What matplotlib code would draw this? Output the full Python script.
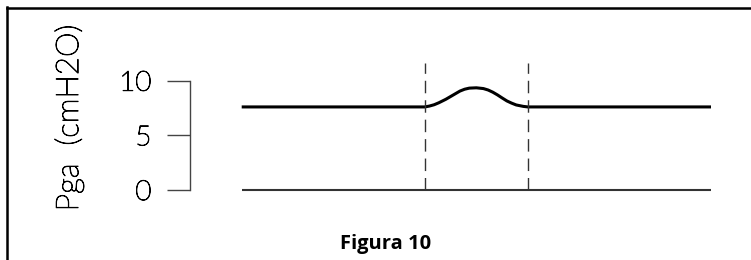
import matplotlib
matplotlib.use('Agg')
import matplotlib.pyplot as plt
import matplotlib.patheffects as pe
from matplotlib.lines import Line2D

# Datos
t = [0, 39, 40, 41, 42, 43.5, 44.5, 45.5, 46.5, 47.5, 48.5, 50, 51.5,
     52.5, 53.5, 54.5, 55.5, 56.5, 57.5, 58.5, 60, 61, 100]
pga = [7.6, 7.6, 7.68, 7.8, 7.98, 8.3, 8.55, 8.8, 9.05, 9.22, 9.32, 9.35, 9.28,
       9.15, 8.95, 8.7, 8.42, 8.15, 7.95, 7.78, 7.65, 7.6, 7.6]
limites = [39, 61]          # líneas verticales discontinuas
yticks = [0, 5, 10]
ylabel = "Pga  (cmH2O)"
titulo = "Figura 10"

W, H = 751, 260
fig = plt.figure(figsize=(W / 100, H / 100), dpi=100)

# ejes en coordenadas de píxel
x0, x1 = 189.5, 720
y0, y1 = 190, 63
ax = fig.add_axes([x0 / W, (H - y0) / H, (x1 - x0) / W, (y0 - y1) / H])
ax.set_xlim((x0 - 241.7) / 4.693, (x1 - 241.7) / 4.693)
ax.set_ylim(0, (y0 - y1) / 10.93)

ax.plot(t, pga, color='black', lw=2.2, solid_capstyle='butt')
ax.hlines(0, t[0], t[-1], color='#333333', lw=1.5, clip_on=False)
for xv in limites:
    ax.vlines(xv, 0, ax.get_ylim()[1], color='#333333', lw=1.0,
              linestyles=(0, (9, 5)), clip_on=False)

for s in ['top', 'right', 'bottom']:
    ax.spines[s].set_visible(False)
ax.spines['left'].set_bounds(0, 10)
ax.spines['left'].set_color('#444444')
ax.spines['left'].set_linewidth(1.0)
ax.set_xticks([])
ax.set_yticks(yticks)
ax.tick_params(axis='y', direction='out', length=16.5, width=1.0,
               color='#444444', pad=11, labelsize=20, labelcolor='black')

# trazo fino pero oscuro, como en el original
grosor = [pe.withStroke(linewidth=0.7, foreground='black')]
for lb in ax.get_yticklabels():
    lb.set_family('Lato')
    lb.set_fontweight('light')
    lb.set_path_effects(grosor)

fig.text(69 / W, 1 - 118 / H, ylabel, rotation=90, ha='center', va='center',
         fontsize=22.5, family='Lato', fontweight='light', color='black',
         path_effects=grosor)
fig.text(386 / W, 1 - 244.5 / H, titulo, ha='center', va='center',
         fontsize=14.5, fontweight='bold', family='Open Sans')

# marco
fig.add_artist(Line2D([7 / W, 7 / W], [1 - 7 / H, 0], color='black', lw=1.8,
                      transform=fig.transFigure))
fig.add_artist(Line2D([7 / W, 1], [1 - 7.5 / H, 1 - 7.5 / H], color='black',
                      lw=1.8, transform=fig.transFigure))

fig.savefig('out.png', dpi=100)
